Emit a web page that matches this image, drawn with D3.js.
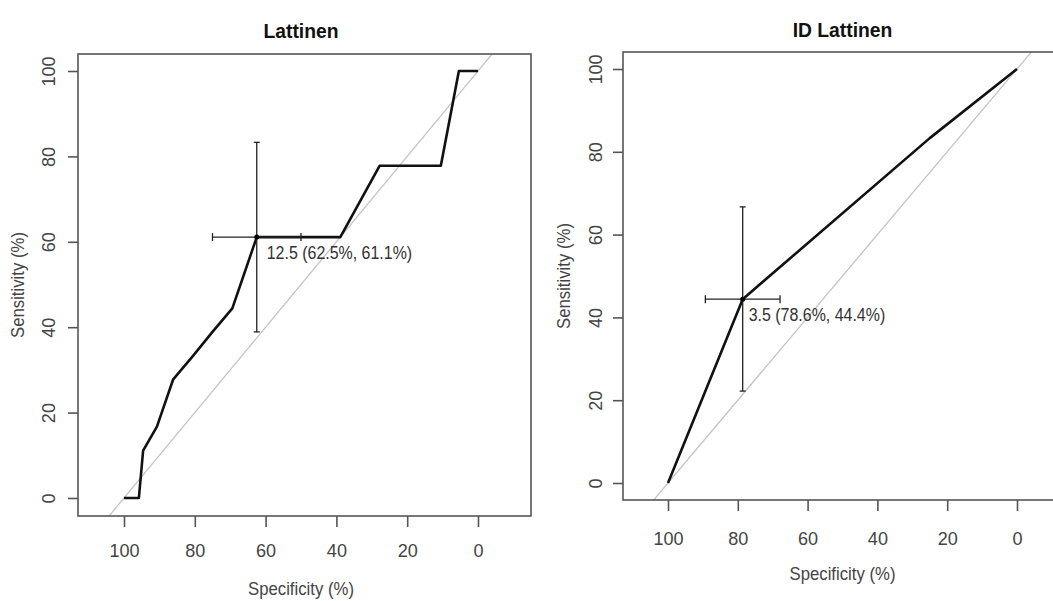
<!DOCTYPE html>
<html>
<head>
<meta charset="utf-8">
<script src="https://cdn.jsdelivr.net/npm/d3@7"></script>
<style>
  body { margin: 0; background: #fff; }
  svg { display: block; font-family: "Liberation Sans", Arial, sans-serif; }
</style>
</head>
<body>
<svg id="chart" width="1053" height="601"></svg>
<script>
// tick labels
var specTicks = [100, 80, 60, 40, 20, 0];
var sensTicks = [0, 20, 40, 60, 80, 100];

// Lattinen ROC curve (specificity %, sensitivity %)
var latSpec = [100, 95.8, 94.6, 90.7, 86.1, 80.5, 75, 69.4, 62.5, 38.9, 27.8, 10.5, 5.4, 0];
var latSens = [0, 0, 11.1, 16.7, 27.8, 33.3, 38.9, 44.4, 61.1, 61.1, 77.8, 77.8, 100, 100];
var latBest = {thr: "12.5", sp: 62.5, se: 61.1};
var latSpCI = [50, 75];
var latSeCI = [38.9, 83.3];

// ID Lattinen ROC curve
var idSpec = [100, 78.6, 25, 0];
var idSens = [0, 44.4, 83.3, 100];
var idBest = {thr: "3.5", sp: 78.6, se: 44.4};
var idSpCI = [67.9, 89.3];
var idSeCI = [22.2, 66.7];

var svg = d3.select("#chart");

function panel(cfg) {
    var g = svg.append("g");
    var x = d3.scaleLinear().domain([100, 0]).range([cfg.x100, cfg.x0]);
    var y = d3.scaleLinear().domain([0, 100]).range([cfg.y0, cfg.y100]);

    var clipId = "clip" + cfg.id;
    svg.append("clipPath").attr("id", clipId)
        .append("rect")
        .attr("x", cfg.left).attr("y", cfg.top)
        .attr("width", cfg.right - cfg.left).attr("height", cfg.bottom - cfg.top);

    // chance diagonal, extended over the whole box
    g.append("line")
        .attr("clip-path", "url(#" + clipId + ")")
        .attr("x1", x(120)).attr("y1", y(-20))
        .attr("x2", x(-20)).attr("y2", y(120))
        .style("stroke", "#c4c4c4")
        .style("stroke-width", 1.3);

    // roc curve
    var pts = cfg.spec.map(function(d, i) { return {sp: d, se: cfg.sens[i]}; });
    var line = d3.line()
        .x(function(d) { return x(d.sp); })
        .y(function(d) { return y(d.se); });
    g.append("path")
        .attr("d", line(pts))
        .style("fill", "none")
        .style("stroke", "#111")
        .style("stroke-width", 2.6)
        .style("stroke-linejoin", "round");

    // ci bars
    var b = cfg.best;
    g.append("line")
        .attr("x1", x(b.sp)).attr("x2", x(b.sp))
        .attr("y1", y(cfg.seCI[0])).attr("y2", y(cfg.seCI[1]));
    cfg.seCI.forEach(function(v) {
        g.append("line")
            .attr("x1", x(b.sp) - 3).attr("x2", x(b.sp) + 3)
            .attr("y1", y(v)).attr("y2", y(v));
    });
    g.append("line")
        .attr("x1", x(cfg.spCI[0])).attr("x2", x(cfg.spCI[1]))
        .attr("y1", y(b.se)).attr("y2", y(b.se));
    cfg.spCI.forEach(function(v) {
        g.append("line")
            .attr("x1", x(v)).attr("x2", x(v))
            .attr("y1", y(b.se) - 4).attr("y2", y(b.se) + 4);
    });
    g.selectAll("line:not([clip-path])")
        .style("stroke", "#222")
        .style("stroke-width", 1.3);

    g.append("circle")
        .attr("cx", x(b.sp)).attr("cy", y(b.se)).attr("r", 2.5)
        .style("fill", "#000");

    g.append("text")
        .attr("transform", "translate(" + (x(b.sp) + cfg.labDx) + "," + (y(b.se) + 22) + ") scale(0.84,1)")
        .style("font-size", "19px")
        .style("fill", "#333")
        .text(b.thr + " (" + b.sp.toFixed(1) + "%, " + b.se.toFixed(1) + "%)");

    // box
    g.append("rect")
        .attr("x", cfg.left).attr("y", cfg.top)
        .attr("width", cfg.right - cfg.left).attr("height", cfg.bottom - cfg.top)
        .style("fill", "none")
        .style("stroke", "#555")
        .style("stroke-width", 1.6);

    // x axis
    var xa = g.append("g")
        .attr("transform", "translate(0," + cfg.bottom + ")")
        .call(d3.axisBottom(x).tickValues(specTicks).tickSize(11).tickFormat(d3.format("d")));
    xa.select(".domain").remove();
    xa.selectAll(".tick line").style("stroke", "#555").style("stroke-width", 1.6);
    xa.selectAll(".tick text")
        .attr("y", null).attr("dy", null)
        .attr("transform", "translate(0," + cfg.xLabOff + ") scale(0.95,1)")
        .style("font-size", "19px")
        .style("font-family", "Liberation Sans, Arial, sans-serif")
        .style("fill", "#444");

    // y axis
    var ya = g.append("g")
        .attr("transform", "translate(" + cfg.left + ",0)")
        .call(d3.axisLeft(y).tickValues(sensTicks).tickSize(10).tickFormat(d3.format("d")));
    ya.select(".domain").remove();
    ya.selectAll(".tick line").style("stroke", "#555").style("stroke-width", 1.6);
    ya.selectAll(".tick text")
        .attr("x", null).attr("dy", null)
        .attr("text-anchor", "middle")
        .attr("transform", "translate(" + (-cfg.yLabOff) + ",0) rotate(-90) scale(0.95,1)")
        .style("font-size", "19px")
        .style("font-family", "Liberation Sans, Arial, sans-serif")
        .style("fill", "#444");

    // titles
    var cx = (x(100) + x(0)) / 2;
    g.append("text")
        .attr("transform", "translate(" + cx + "," + cfg.titleY + ") scale(0.92,1)")
        .attr("text-anchor", "middle")
        .style("font-size", "21px")
        .style("font-weight", "bold")
        .style("fill", "#111")
        .text(cfg.title);
    g.append("text")
        .attr("transform", "translate(" + cx + "," + cfg.xTitleY + ") scale(0.93,1)")
        .attr("text-anchor", "middle")
        .style("font-size", "18px")
        .style("fill", "#444")
        .text("Specificity (%)");
    g.append("text")
        .attr("transform", "translate(" + cfg.yTitleX + "," + ((cfg.top + cfg.bottom) / 2) + ") rotate(-90) scale(0.93,1)")
        .attr("text-anchor", "middle")
        .style("font-size", "18px")
        .style("fill", "#444")
        .text("Sensitivity (%)");
}

panel({
    id: 1, title: "Lattinen",
    spec: latSpec, sens: latSens, best: latBest, spCI: latSpCI, seCI: latSeCI,
    x100: 124, x0: 478, y0: 498, y100: 71,
    left: 78, right: 531, top: 54, bottom: 516,
    xLabOff: 41, yLabOff: 23, titleY: 38, xTitleY: 595, yTitleX: 24, labDx: 10
});

panel({
    id: 2, title: "ID Lattinen",
    spec: idSpec, sens: idSens, best: idBest, spCI: idSpCI, seCI: idSeCI,
    x100: 668, x0: 1017, y0: 483, y100: 69,
    left: 623, right: 1062, top: 52, bottom: 500,
    xLabOff: 45, yLabOff: 21, titleY: 37, xTitleY: 580, yTitleX: 570, labDx: 6
});
</script>
</body>
</html>
